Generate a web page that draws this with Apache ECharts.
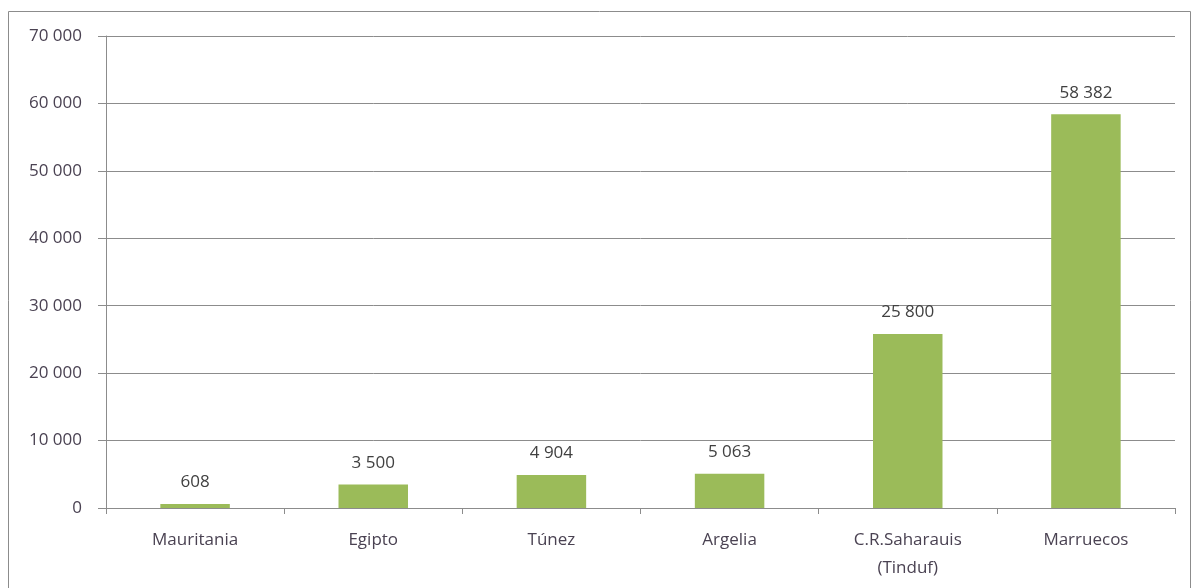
<!DOCTYPE html>
<html><head><meta charset="utf-8">
<script src="https://cdn.jsdelivr.net/npm/echarts@6/dist/echarts.min.js"></script>
<style>html,body{margin:0;padding:0;background:#fff}#c{width:1192px;height:588px}</style>
</head><body><div id="c"></div>
<script>
const categories = ["Mauritania", "Egipto", "Túnez", "Argelia", "C.R.Saharauis\n(Tinduf)", "Marruecos"];
const values = [608, 3500, 4904, 5063, 25800, 58382];
const yTicks = [0, 10000, 20000, 30000, 40000, 50000, 60000, 70000];

function fmt(v){ return String(v).replace(/\B(?=(\d{3})+(?!\d))/g, " "); }

const chart = echarts.init(document.getElementById('c'), null, {renderer:'canvas'});
const FONT = "Open Sans";
const TXT = '#4a4252';
chart.setOption({
  animation:false,
  graphic:[{type:'rect', shape:{x:8.5, y:11.5, width:1182, height:620}, style:{fill:'none', stroke:'#8c8c8c', lineWidth:1}, silent:true}],
  grid:{left:106, right:17, top:36, bottom:80, containLabel:false},
  xAxis:{type:'category', data:categories,
    axisLine:{lineStyle:{color:'#8c8c8c', width:1}},
    axisTick:{show:true, length:6, alignWithLabel:false, lineStyle:{color:'#8c8c8c'}},
    axisLabel:{color:TXT, fontFamily:FONT, fontSize:17, margin:18, lineHeight:28, interval:0}},
  yAxis:{type:'value', min:yTicks[0], max:yTicks[yTicks.length-1], interval:10000,
    axisLine:{show:true, lineStyle:{color:'#8c8c8c', width:1}},
    axisTick:{show:true, length:8, lineStyle:{color:'#8c8c8c'}},
    splitLine:{show:true, lineStyle:{color:'#8c8c8c', width:1}},
    axisLabel:{color:TXT, fontFamily:FONT, fontSize:17, margin:24, formatter:fmt}},
  series:[{type:'bar', data:values, barWidth:'39%',
    itemStyle:{color:'#9bbb59'},
    label:{show:true, position:'top', distance:13, color:'#404040', fontFamily:FONT, fontSize:17, formatter:p=>fmt(p.value)}}]
});
</script></body></html>
